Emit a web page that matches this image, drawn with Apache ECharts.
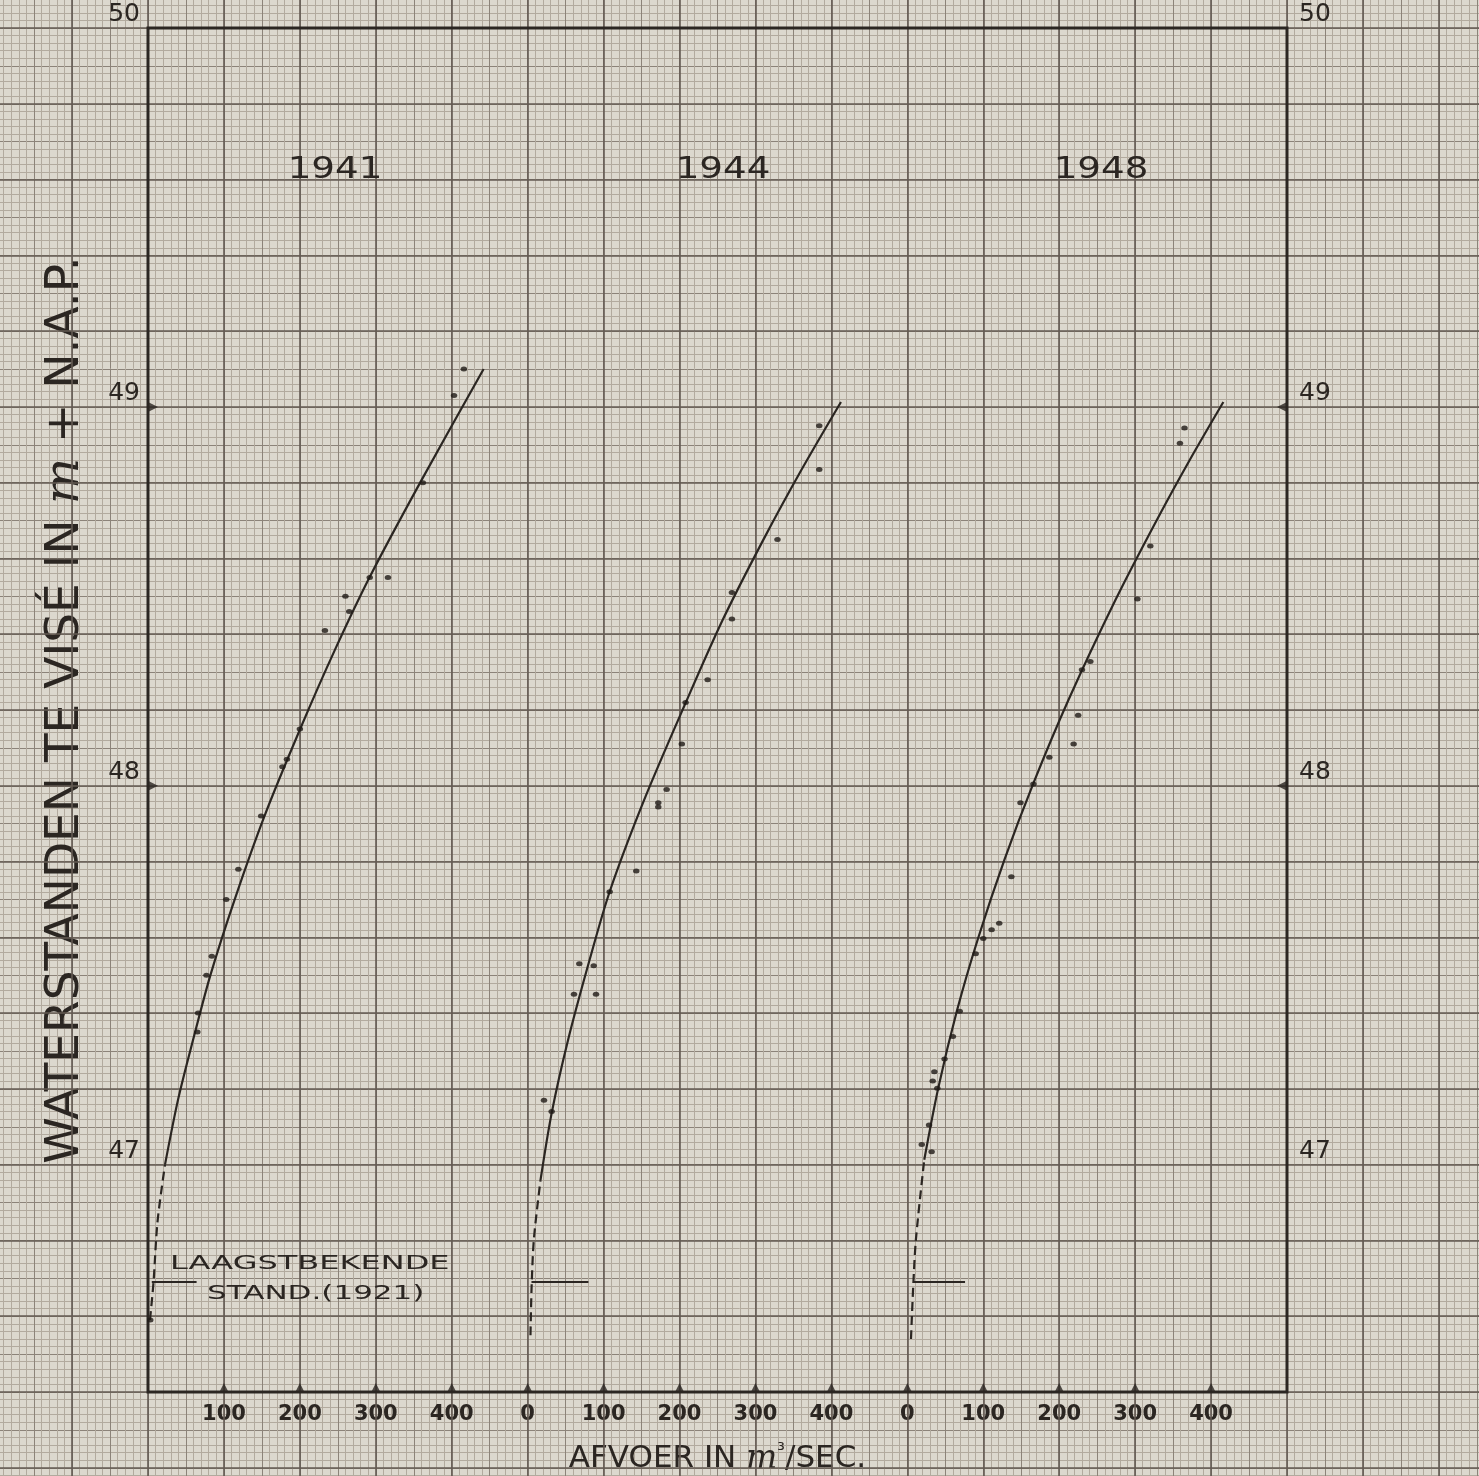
<!DOCTYPE html>
<html>
<head>
<meta charset="utf-8">
<script src="https://cdn.jsdelivr.net/npm/echarts@6/dist/echarts.min.js"></script>
<style>
html,body{margin:0;padding:0;background:#dcd8ce;}
#c{width:1479px;height:1476px;}
</style>
</head>
<body>
<div id="c"></div>
<script>
// ---------------- DATA ----------------
const years = ['1941', '1944', '1948'];
const xTickLabelsFirst = [100, 200, 300, 400];
const xTickLabels = [0, 100, 200, 300, 400];
const yTickLabels = [47, 48, 49, 50];
const yTickMarks = [48, 49];
const lowestKnownLevel = 46.69;               // laagstbekende stand (1921)
const lowestLineQ = [[5, 64], [5, 80], [8, 76]];

// observations [Q m3/s, H m + N.A.P.]
const obs1941 = [
  [416, 49.10], [403, 49.03], [362, 48.80], [316, 48.55], [292, 48.55], [260, 48.50],
  [265, 48.46], [233, 48.41], [200, 48.15], [183, 48.07], [177, 48.05], [149, 47.92],
  [119, 47.78], [103, 47.70], [84, 47.55], [77, 47.50], [66, 47.40], [65, 47.35], [3, 46.59]
];
const obs1944 = [
  [384, 48.95], [384, 48.835], [329, 48.65], [269, 48.51], [269, 48.44], [237, 48.28],
  [208, 48.22], [203, 48.11], [183, 47.99], [172, 47.955], [172, 47.944], [143, 47.775],
  [108, 47.72], [68, 47.53], [87, 47.525], [61, 47.45], [90, 47.45], [21.5, 47.17], [31.6, 47.14]
];
const obs1948 = [
  [365, 48.944], [359, 48.904], [320, 48.633], [303, 48.493], [241, 48.328], [230, 48.306],
  [225, 48.186], [219, 48.11], [187, 48.075], [166, 48.005], [149, 47.955], [137, 47.76],
  [121, 47.637], [111, 47.62], [100, 47.597], [90, 47.557], [69, 47.405], [60, 47.338],
  [49, 47.279], [35.6, 47.245], [33.4, 47.221], [39.5, 47.202], [28.6, 47.105], [19, 47.053], [32, 47.034]
];

// fitted rating curves (solid) and their dashed extension downwards
const curve1941 = [[22.4, 47.00], [39.5, 47.171], [59.3, 47.329], [82.3, 47.501], [114, 47.699],
  [153, 47.918], [201.5, 48.155], [246, 48.358], [292, 48.551], [359.5, 48.804], [442, 49.10]];
const dashed1941 = [[2.6, 46.59], [7.2, 46.688], [12.5, 46.849], [22.4, 47.00]];
const curve1944 = [[16.9, 46.959], [31.6, 47.136], [53.2, 47.329], [81.5, 47.54], [108.4, 47.723],
  [153.3, 47.962], [208.1, 48.219], [256.9, 48.438], [310.3, 48.649], [360.6, 48.834], [412.6, 49.013]];
const dashed1944 = [[3.7, 46.55], [5.3, 46.685], [8.3, 46.806], [16.9, 46.959]];
const curve1948 = [[22.3, 47.013], [40.7, 47.202], [65.3, 47.406], [93.1, 47.597], [127.7, 47.804],
  [165.7, 48.005], [212.3, 48.227], [274.2, 48.491], [328.4, 48.701], [371.9, 48.86], [416.2, 49.013]];
const dashed1948 = [[4.8, 46.54], [7.9, 46.685], [11.4, 46.805], [22.3, 47.013]];

const observations = [obs1941, obs1944, obs1948];
const curves = [curve1941, curve1944, curve1948];
const dashedCurves = [dashed1941, dashed1944, dashed1948];

// ---------------- LAYOUT / STYLE ----------------
const INK = '#2b2622';
const PAPER = '#dcd8ce';
const MAJ = '#645b53', MED = '#8c8379', MINR = '#b2aa9e';
const FONT = 'DejaVu Sans';
const CW = 1479, CH = 1476;
const L = 148, R = 1287, T = 28, B = 1392;
const QMAX = 500, HMIN = 46.4, HMAX = 50;
const kx = (R - L) / (3 * QMAX), ky = (B - T) / (HMAX - HMIN);
const PW = (R - L) / 3;
const bgBox = {
  left: L - 200 * kx,
  right: CW - (L + 1800 * kx),
  top: T - (50.2 - HMAX) * ky,
  bottom: CH - (B + (HMIN - 46.0) * ky)
};

const hidden = {axisLine: {show: false}, axisTick: {show: false}, axisLabel: {show: false}, splitLine: {show: false}};

const grids = [
  Object.assign({show: false, z: 0, outerBoundsMode: 'none', containLabel: false}, bgBox),
  Object.assign({show: false, z: 0, outerBoundsMode: 'none', containLabel: false}, bgBox),
  {left: L, top: T, width: R - L, height: B - T, show: true, borderColor: INK, borderWidth: 3,
   backgroundColor: 'transparent', z: 3, outerBoundsMode: 'none'}
];
for (let p = 0; p < 3; p++) grids.push({left: L + p * PW, top: T, width: PW, height: B - T, show: false, outerBoundsMode: 'none'});

const xAxes = [
  {gridIndex: 0, type: 'value', min: -200, max: 1800, interval: 50, z: 0,
   axisLine: {show: false}, axisTick: {show: false}, axisLabel: {show: false},
   splitLine: {show: true, lineStyle: {color: MED, width: 1}},
   minorTick: {show: false, splitNumber: 5},
   minorSplitLine: {show: true, lineStyle: {color: MINR, width: 1}}},
  {gridIndex: 1, type: 'value', min: -200, max: 1800, interval: 100, z: 1,
   axisLine: {show: false}, axisTick: {show: false}, axisLabel: {show: false},
   splitLine: {show: true, lineStyle: {color: MAJ, width: 1.6}}},
  Object.assign({gridIndex: 2, type: 'value', min: 0, max: 3 * QMAX,
   name: '{a|AFVOER IN }{m|m}{s|³}{a|/SEC.}', nameLocation: 'middle', nameGap: 50,
   nameTextStyle: {rich: {
     a: {fontFamily: FONT, fontSize: 31, color: INK},
     m: {fontFamily: 'DejaVu Serif', fontStyle: 'italic', fontSize: 33, color: INK},
     s: {fontFamily: FONT, fontSize: 19, color: INK, verticalAlign: 'top', padding: [0, 0, 15, 0]}
   }}}, hidden)
];
for (let p = 0; p < 3; p++) {
  xAxes.push({gridIndex: 3 + p, type: 'value', min: 0, max: QMAX, interval: 100,
    axisLine: {show: false}, axisTick: {show: false}, splitLine: {show: false},
    axisLabel: {customValues: p === 0 ? xTickLabelsFirst : xTickLabels, margin: 12,
      fontFamily: FONT, fontSize: 21, fontWeight: 'bold', color: INK}});
}

const yLabelStyle = {customValues: yTickLabels, margin: 8, verticalAlign: 'bottom',
  fontFamily: FONT, fontSize: 25, color: INK, padding: [0, 0, 1, 0]};
const yAxes = [
  {gridIndex: 0, type: 'value', min: 4600, max: 5020, interval: 10, z: 0,
   axisLine: {show: false}, axisTick: {show: false}, axisLabel: {show: false},
   splitLine: {show: true, lineStyle: {color: MED, width: 1}},
   minorTick: {show: false, splitNumber: 5},
   minorSplitLine: {show: true, lineStyle: {color: MINR, width: 1}}},
  {gridIndex: 1, type: 'value', min: 4600, max: 5020, interval: 20, z: 1,
   axisLine: {show: false}, axisTick: {show: false}, axisLabel: {show: false},
   splitLine: {show: true, lineStyle: {color: MAJ, width: 1.6}}},
  Object.assign({gridIndex: 2, type: 'value', min: HMIN, max: HMAX,
   name: '{a|WATERSTANDEN TE VISÉ IN }{m|m}{a| + N.A.P.}', nameLocation: 'middle', nameRotate: 90, nameGap: 58,
   nameTextStyle: {rich: {
     a: {fontFamily: FONT, fontSize: 47, color: INK},
     m: {fontFamily: 'DejaVu Serif', fontStyle: 'italic', fontSize: 49, color: INK}
   }}}, hidden),
  {gridIndex: 3, type: 'value', min: HMIN, max: HMAX, position: 'left',
   axisLine: {show: false}, axisTick: {show: false}, splitLine: {show: false}, axisLabel: yLabelStyle},
  Object.assign({gridIndex: 4, type: 'value', min: HMIN, max: HMAX}, hidden),
  {gridIndex: 5, type: 'value', min: HMIN, max: HMAX, position: 'right',
   axisLine: {show: false}, axisTick: {show: false}, splitLine: {show: false},
   axisLabel: Object.assign({}, yLabelStyle, {margin: 12})}
];

const series = [
  // left frame line continuing below the discharge axis
  {type: 'line', xAxisIndex: 0, yAxisIndex: 0, data: [], silent: true, z: 5,
   markLine: {silent: true, symbol: 'none', label: {show: false},
     lineStyle: {color: INK, width: 3, type: 'solid'},
     data: [[{coord: [0, 4640]}, {coord: [0, 4590]}]]}}
];
for (let p = 0; p < 3; p++) {
  const ax = {xAxisIndex: 3 + p, yAxisIndex: 3 + p};
  series.push(Object.assign({type: 'line', name: years[p], data: curves[p], smooth: 0.3, symbol: 'none',
    lineStyle: {color: INK, width: 2.2}, z: 6, silent: true}, ax));
  series.push(Object.assign({type: 'line', name: years[p] + ' extrapolatie', data: dashedCurves[p], smooth: 0.3, symbol: 'none',
    lineStyle: {color: INK, width: 2.2, type: [9, 5]}, z: 6, silent: true}, ax));
  series.push(Object.assign({type: 'scatter', name: years[p] + ' metingen', data: observations[p],
    symbol: 'circle', symbolSize: [6.5, 5], itemStyle: {color: '#1f1a17'}, z: 7, silent: true}, ax));
  series.push(Object.assign({type: 'line', name: 'laagstbekende stand', data: [[lowestLineQ[p][0], lowestKnownLevel], [lowestLineQ[p][1], lowestKnownLevel]],
    symbol: 'none', lineStyle: {color: INK, width: 2}, z: 6, silent: true}, ax));
  const tv = p === 0 ? xTickLabelsFirst : xTickLabels;
  series.push(Object.assign({type: 'scatter', data: tv.map(v => [v, HMIN]), symbol: 'triangle',
    symbolSize: [9, 9], symbolOffset: [0, -4.5], itemStyle: {color: INK}, clip: false, z: 7, silent: true}, ax));
}
// ticks on the left and right water-level axes
series.push({type: 'scatter', xAxisIndex: 3, yAxisIndex: 3, data: yTickMarks.map(v => [0, v]), symbol: 'triangle',
  symbolSize: [10, 10], symbolRotate: -90, symbolOffset: [5, 0], itemStyle: {color: INK}, clip: false, z: 7, silent: true});
series.push({type: 'scatter', xAxisIndex: 5, yAxisIndex: 5, data: yTickMarks.map(v => [QMAX, v]), symbol: 'triangle',
  symbolSize: [10, 10], symbolRotate: 90, symbolOffset: [-5, 0], itemStyle: {color: INK}, clip: false, z: 7, silent: true});

const yearX = [335, 723, 1101];
const graphics = years.map((y, i) => ({
  type: 'text', x: yearX[i], y: 170, scaleX: 1.2, z: 10, silent: true,
  style: {text: y, font: '31px "DejaVu Sans"', fill: INK, align: 'center', verticalAlign: 'middle'}
}));
graphics.push({type: 'text', x: 170, y: 1264, scaleX: 1.6, z: 10, silent: true,
  style: {text: 'LAAGSTBEKENDE', font: '20px "DejaVu Sans"', fill: INK, align: 'left', verticalAlign: 'middle'}});
graphics.push({type: 'text', x: 207, y: 1294, scaleX: 1.55, z: 10, silent: true,
  style: {text: 'STAND.(1921)', font: '20px "DejaVu Sans"', fill: INK, align: 'left', verticalAlign: 'middle'}});

const chart = echarts.init(document.getElementById('c'));
chart.setOption({
  animation: false,
  backgroundColor: PAPER,
  grid: grids,
  xAxis: xAxes,
  yAxis: yAxes,
  series: series,
  graphic: graphics
});
</script>
</body>
</html>
